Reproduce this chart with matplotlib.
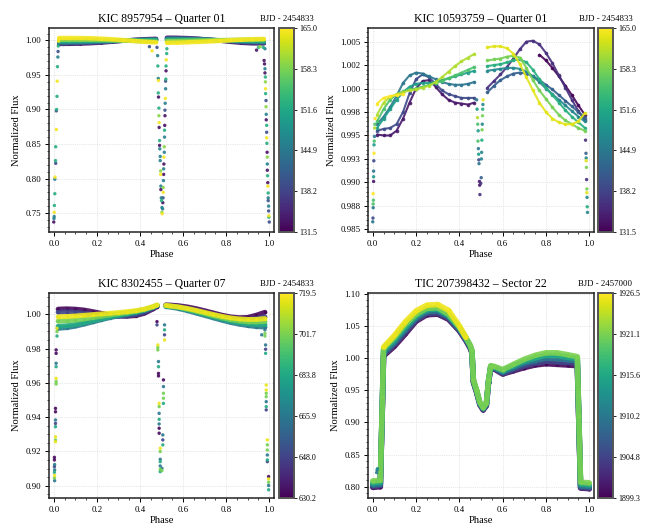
import numpy as np
import matplotlib as mpl
import matplotlib.pyplot as plt
from matplotlib.ticker import AutoMinorLocator, FormatStrFormatter, MultipleLocator

plt.rcParams['font.family'] = 'serif'
plt.rcParams['font.serif'] = ['Liberation Serif', 'DejaVu Serif']
nan = np.nan

# ---------------- KIC 8957954, Quarter 01 ----------------
tl_times = [133.0, 139.5, 146.0, 152.5, 159.0, 164.5]
tl_left_phase = [0.025, 0.07, 0.12, 0.17, 0.22, 0.27, 0.32, 0.37, 0.42, 0.475]
tl_left_flux = [
    [0.9950, 0.9951, 0.9954, 0.9960, 0.9969, 0.9981, 0.9995, 1.0008, 1.0018, 1.0024],
    [0.9960, 0.9962, 0.9965, 0.9970, 0.9977, 0.9986, 0.9997, 1.0006, 1.0013, 1.0018],
    [0.9972, 0.9974, 0.9977, 0.9981, 0.9986, 0.9992, 0.9998, 1.0004, 1.0009, 1.0012],
    [0.9988, 0.9990, 0.9992, 0.9994, 0.9996, 0.9998, 1.0000, 1.0001, 1.0002, 1.0003],
    [1.0010, 1.0011, 1.0011, 1.0010, 1.0008, 1.0004, 0.9999, 0.9993, 0.9987, 0.9982],
    [1.0035, 1.0036, 1.0035, 1.0032, 1.0026, 1.0017, 1.0006, 0.9994, 0.9981, 0.9972],
]
tl_right_phase = [0.525, 0.57, 0.62, 0.67, 0.72, 0.77, 0.82, 0.87, 0.92, 0.975]
tl_right_flux = [
    [1.0040, 1.0039, 1.0034, 1.0025, 1.0012, 0.9997, 0.9980, 0.9966, 0.9958, 0.9957],
    [1.0032, 1.0031, 1.0028, 1.0022, 1.0012, 1.0001, 0.9989, 0.9978, 0.9971, 0.9968],
    [1.0022, 1.0022, 1.0020, 1.0016, 1.0010, 1.0003, 0.9996, 0.9989, 0.9984, 0.9981],
    [1.0008, 1.0009, 1.0009, 1.0008, 1.0006, 1.0003, 1.0000, 0.9997, 0.9994, 0.9992],
    [0.9990, 0.9992, 0.9995, 0.9998, 1.0001, 1.0005, 1.0008, 1.0011, 1.0013, 1.0014],
    [0.9966, 0.9968, 0.9973, 0.9979, 0.9986, 0.9994, 1.0003, 1.0011, 1.0018, 1.0022],
]
# eclipse points (phase, flux, time)
tl_eclipse = [
    (0.000, 0.737, 133), (0.001, 0.742, 146), (0.002, 0.745, 146), (0.002, 0.751, 164.5),
    (0.003, 0.761, 152.5), (0.005, 0.778, 152.5), (0.005, 0.799, 146), (0.006, 0.802, 164.5),
    (0.009, 0.822, 139.5), (0.008, 0.826, 152.5), (0.009, 0.846, 152.5), (0.012, 0.871, 164.5),
    (0.012, 0.898, 139.5), (0.013, 0.900, 152.5), (0.015, 0.919, 152.5), (0.016, 0.941, 164.5),
    (0.017, 0.962, 152.5), (0.019, 0.976, 146), (0.020, 0.984, 139.5), (0.021, 0.992, 152.5),
    (0.022, 0.999, 164.5), (0.023, 1.003, 164.5),
    (0.444, 0.991, 139.5), (0.456, 0.985, 164.5), (0.479, 0.990, 139.5), (0.482, 0.978, 146),
    (0.483, 0.963, 152.5), (0.485, 0.945, 146), (0.486, 0.942, 164.5), (0.485, 0.924, 152.5),
    (0.486, 0.918, 133), (0.488, 0.902, 152.5), (0.488, 0.891, 159), (0.489, 0.881, 164.5),
    (0.489, 0.874, 133), (0.491, 0.855, 152.5), (0.491, 0.848, 133), (0.492, 0.843, 146),
    (0.494, 0.832, 146), (0.494, 0.826, 146), (0.496, 0.811, 159), (0.496, 0.806, 164.5),
    (0.497, 0.789, 146), (0.497, 0.784, 133), (0.499, 0.772, 146), (0.500, 0.768, 152.5),
    (0.502, 0.758, 146), (0.502, 0.751, 159), (0.503, 0.749, 164.5),
    (0.505, 0.756, 146), (0.506, 0.765, 133), (0.507, 0.772, 139.5), (0.508, 0.780, 164.5),
    (0.508, 0.787, 159), (0.509, 0.797, 146), (0.510, 0.806, 133), (0.510, 0.814, 146),
    (0.511, 0.821, 133), (0.511, 0.831, 164.5), (0.513, 0.838, 146), (0.513, 0.846, 159),
    (0.514, 0.860, 146), (0.514, 0.870, 152.5), (0.515, 0.877, 133), (0.516, 0.891, 133),
    (0.516, 0.899, 139.5), (0.517, 0.909, 146), (0.518, 0.916, 164.5), (0.519, 0.930, 146),
    (0.519, 0.941, 139.5), (0.520, 0.944, 152.5), (0.521, 0.956, 133), (0.521, 0.963, 152.5),
    (0.522, 0.972, 164.5), (0.524, 0.981, 152.5), (0.525, 0.988, 152.5),
    (0.941, 0.986, 133), (0.950, 0.990, 152.5), (0.957, 0.991, 159), (0.972, 0.990, 152.5),
    (0.976, 0.971, 133), (0.978, 0.966, 133), (0.980, 0.988, 146), (0.980, 0.959, 146),
    (0.980, 0.953, 133), (0.982, 0.947, 152.5), (0.982, 0.940, 159), (0.983, 0.930, 164.5),
    (0.983, 0.923, 152.5), (0.985, 0.913, 139.5), (0.985, 0.904, 159), (0.986, 0.893, 146),
    (0.986, 0.885, 133), (0.988, 0.877, 152.5), (0.988, 0.867, 139.5), (0.988, 0.859, 164.5),
    (0.989, 0.851, 152.5), (0.990, 0.838, 133), (0.991, 0.831, 159), (0.991, 0.821, 146),
    (0.991, 0.812, 133), (0.992, 0.804, 152.5), (0.993, 0.794, 133), (0.993, 0.789, 164.5),
    (0.995, 0.779, 152.5), (0.995, 0.772, 146), (0.995, 0.768, 139.5), (0.997, 0.760, 146),
    (0.997, 0.753, 139.5), (0.998, 0.746, 164.5), (0.998, 0.744, 152.5), (1.000, 0.737, 139.5),
]
tl_cticks = [131.5, 138.2, 144.9, 151.6, 158.3, 165.0]

# ---------------- KIC 10593759, Quarter 01 ----------------
tr_left_times = [133.5, 139.0, 144.5, 150.0, 155.5, 161.0, 165.0]
tr_left_phase = [0.02, 0.05, 0.08, 0.11, 0.14, 0.17, 0.20, 0.23, 0.26, 0.29, 0.32, 0.35, 0.38, 0.41, 0.44, 0.47]
tr_left_flux = [
    [0.9951, 0.9950, 0.9950, 0.9955, 0.9968, 0.9985, 1.0000, 1.0008, 1.0009, 1.0002, 0.9994, 0.9988, 0.9985, 0.9984, 0.9983, 0.9985],
    [0.9955, 0.9957, 0.9958, 0.9962, 0.9975, 0.9995, 1.0010, 1.0015, 1.0012, 1.0005, 0.9998, 0.9994, 0.9992, 0.9990, 0.9990, 0.9990],
    [0.9962, 0.9970, 0.9980, 0.9992, 1.0006, 1.0014, 1.0017, 1.0016, 1.0013, 1.0010, 1.0007, 1.0005, 1.0004, 1.0004, 1.0005, 1.0007],
    [0.9958, 0.9968, 0.9978, 0.9988, 0.9996, 1.0002, 1.0005, 1.0006, 1.0006, 1.0007, 1.0009, 1.0011, 1.0013, 1.0015, 1.0017, 1.0019],
    [0.9965, 0.9978, 0.9988, 0.9994, 0.9997, 0.9999, 1.0000, 1.0002, 1.0004, 1.0006, 1.0008, 1.0011, 1.0014, 1.0017, 1.0020, 1.0023],
    [0.9972, 0.9985, 0.9991, 0.9994, 0.9996, 0.9998, 0.9999, 1.0001, 1.0003, 1.0007, 1.0012, 1.0018, 1.0024, 1.0029, 1.0033, 1.0037],
    [0.9984, 0.9990, 0.9992, 0.9993, 0.9994, nan, nan, nan, nan, nan, nan, nan, nan, nan, nan, nan],
]
tr_right_times = [131.8, 136.0, 141.5, 147.0, 152.5, 158.0, 163.5]
tr_right_phase = [0.53, 0.56, 0.59, 0.62, 0.65, 0.68, 0.71, 0.74, 0.77, 0.80, 0.83, 0.86, 0.89, 0.92, 0.95, 0.98]
tr_right_flux = [
    [nan, nan, nan, nan, nan, nan, nan, nan, 1.0036, 1.0030, 1.0022, 1.0013, 1.0003, 0.9993, 0.9982, 0.9972],
    [1.0001, 1.0008, 1.0015, 1.0023, 1.0032, 1.0042, 1.0050, 1.0051, 1.0047, 1.0038, 1.0027, 1.0014, 1.0001, 0.9988, 0.9976, 0.9966],
    [0.9996, 1.0003, 1.0009, 1.0013, 1.0016, 1.0017, 1.0016, 1.0013, 1.0009, 1.0004, 0.9999, 0.9993, 0.9987, 0.9981, 0.9975, 0.9969],
    [1.0019, 1.0020, 1.0021, 1.0022, 1.0022, 1.0021, 1.0018, 1.0013, 1.0007, 1.0000, 0.9994, 0.9988, 0.9982, 0.9976, 0.9970, 0.9965],
    [1.0024, 1.0025, 1.0026, 1.0028, 1.0030, 1.0031, 1.0028, 1.0020, 1.0010, 1.0001, 0.9993, 0.9985, 0.9977, 0.9970, 0.9964, 0.9958],
    [1.0030, 1.0031, 1.0032, 1.0034, 1.0035, 1.0033, 1.0022, 1.0009, 0.9998, 0.9989, 0.9980, 0.9972, 0.9966, 0.9962, 0.9958, 0.9955],
    [1.0044, 1.0045, 1.0045, 1.0043, 1.0037, 1.0026, 1.0012, 0.9998, 0.9985, 0.9975, 0.9968, 0.9964, 0.9962, 0.9962, 0.9965, 0.9974],
]
tr_eclipse = [
    (0.000, 0.9858, 144.5), (0.001, 0.9862, 139), (0.002, 0.9873, 144.5), (0.002, 0.9877, 155.5),
    (0.003, 0.9881, 155.5), (0.002, 0.9888, 165), (0.004, 0.9901, 133.5), (0.004, 0.9906, 150),
    (0.004, 0.9912, 144.5), (0.005, 0.9923, 139), (0.006, 0.9931, 165), (0.006, 0.9940, 150),
    (0.007, 0.9944, 155.5), (0.008, 0.9949, 144.5), (0.009, 0.9958, 161), (0.010, 0.9962, 155.5),
    (0.011, 0.9968, 165),
    (0.480, 0.9988, 144.5), (0.482, 0.9978, 150), (0.484, 0.9969, 161), (0.485, 0.9962, 155.5),
    (0.487, 0.9955, 150), (0.486, 0.9944, 155.5), (0.488, 0.9936, 144.5), (0.489, 0.9930, 150),
    (0.490, 0.9924, 139), (0.491, 0.9920, 144.5), (0.493, 0.9901, 133.5), (0.494, 0.9897, 133.5),
    (0.495, 0.9887, 136), (0.499, 0.9899, 136), (0.501, 0.9905, 141.5), (0.502, 0.9925, 147),
    (0.503, 0.9932, 147), (0.504, 0.9945, 152.5), (0.505, 0.9956, 158), (0.506, 0.9962, 147),
    (0.507, 0.9971, 158), (0.508, 0.9978, 152.5), (0.509, 0.9983, 147), (0.510, 0.9988, 163.5),
    (0.983, 0.9945, 136), (0.985, 0.9931, 141.5), (0.986, 0.9926, 147), (0.986, 0.9923, 163.5),
    (0.987, 0.9916, 158), (0.988, 0.9903, 136), (0.989, 0.9893, 158), (0.989, 0.9889, 163.5),
    (0.990, 0.9884, 147), (0.991, 0.9874, 152.5), (0.992, 0.9868, 147),
]
tr_cticks = [131.5, 138.2, 144.9, 151.6, 158.3, 165.0]

# ---------------- KIC 8302455, Quarter 07 ----------------
bl_times = [632.0, 648.0, 666.0, 684.0, 701.0, 717.0]
bl_left_phase = [0.02, 0.06, 0.10, 0.14, 0.18, 0.22, 0.26, 0.30, 0.34, 0.38, 0.42, 0.46, 0.48]
bl_left_flux = [
    [1.0030, 1.0032, 1.0030, 1.0025, 1.0016, 1.0006, 0.9996, 0.9990, 0.9988, 0.9992, 1.0005, 1.0030, 1.0045],
    [1.0012, 1.0014, 1.0012, 1.0006, 0.9999, 0.9993, 0.9989, 0.9988, 0.9991, 0.9998, 1.0012, 1.0035, 1.0048],
    [0.9918, 0.9922, 0.9930, 0.9942, 0.9955, 0.9968, 0.9980, 0.9990, 0.9999, 1.0009, 1.0022, 1.0040, 1.0052],
    [0.9930, 0.9933, 0.9940, 0.9950, 0.9962, 0.9973, 0.9984, 0.9994, 1.0003, 1.0012, 1.0024, 1.0041, 1.0052],
    [0.9960, 0.9962, 0.9966, 0.9973, 0.9980, 0.9988, 0.9996, 1.0003, 1.0010, 1.0018, 1.0028, 1.0043, 1.0053],
    [0.9985, 0.9987, 0.9990, 0.9994, 0.9998, 1.0002, 1.0006, 1.0010, 1.0015, 1.0021, 1.0030, 1.0045, 1.0055],
]
bl_right_phase = [0.52, 0.54, 0.58, 0.62, 0.66, 0.70, 0.74, 0.78, 0.82, 0.86, 0.90, 0.94, 0.98]
bl_right_flux = [
    [1.0055, 1.0054, 1.0050, 1.0043, 1.0033, 1.0021, 1.0008, 0.9995, 0.9985, 0.9980, 0.9982, 0.9995, 1.0012],
    [1.0052, 1.0050, 1.0044, 1.0035, 1.0024, 1.0011, 0.9998, 0.9986, 0.9977, 0.9971, 0.9970, 0.9975, 0.9985],
    [1.0045, 1.0042, 1.0033, 1.0021, 1.0007, 0.9993, 0.9979, 0.9965, 0.9952, 0.9942, 0.9934, 0.9928, 0.9925],
    [1.0048, 1.0045, 1.0037, 1.0026, 1.0013, 0.9999, 0.9985, 0.9972, 0.9960, 0.9951, 0.9944, 0.9940, 0.9940],
    [1.0050, 1.0047, 1.0040, 1.0030, 1.0018, 1.0005, 0.9992, 0.9980, 0.9969, 0.9961, 0.9956, 0.9955, 0.9958],
    [1.0052, 1.0049, 1.0043, 1.0034, 1.0023, 1.0011, 0.9999, 0.9988, 0.9979, 0.9973, 0.9970, 0.9970, 0.9975],
]
bl_eclipse = [
    (0.003, 0.9165, 632), (0.003, 0.9150, 632), (0.004, 0.9123, 666), (0.003, 0.9111, 648),
    (0.004, 0.9092, 666), (0.003, 0.9078, 684), (0.004, 0.9059, 717), (0.003, 0.9045, 701),
    (0.004, 0.9029, 666),
    (0.008, 0.9451, 632), (0.008, 0.9431, 632), (0.008, 0.9383, 666), (0.008, 0.9363, 648),
    (0.008, 0.9344, 684), (0.008, 0.9285, 717), (0.008, 0.9266, 701), (0.008, 0.9256, 717),
    (0.011, 0.9792, 632), (0.011, 0.9772, 632), (0.011, 0.9714, 666), (0.011, 0.9694, 684),
    (0.011, 0.9626, 717), (0.011, 0.9607, 701), (0.011, 0.9593, 701),
    (0.015, 0.9918, 717), (0.015, 0.9899, 701), (0.015, 0.9873, 684),
    (0.479, 0.9957, 632), (0.479, 0.9938, 648),
    (0.483, 0.9821, 717), (0.483, 0.9807, 701), (0.483, 0.9792, 701),
    (0.486, 0.9724, 666), (0.486, 0.9694, 684), (0.486, 0.9655, 632), (0.486, 0.9640, 632),
    (0.489, 0.9480, 717), (0.489, 0.9461, 701), (0.489, 0.9422, 666), (0.489, 0.9387, 684),
    (0.489, 0.9360, 666), (0.489, 0.9335, 632), (0.489, 0.9306, 632),
    (0.494, 0.9218, 717), (0.494, 0.9199, 701), (0.494, 0.9154, 666), (0.494, 0.9140, 684),
    (0.494, 0.9115, 666), (0.494, 0.9095, 701), (0.494, 0.9082, 684),
    (0.502, 0.9101, 666), (0.502, 0.9088, 701),
    (0.506, 0.9296, 666), (0.506, 0.9267, 648), (0.506, 0.9238, 684),
    (0.509, 0.9617, 632), (0.509, 0.9578, 666), (0.509, 0.9539, 701), (0.509, 0.9510, 701),
    (0.509, 0.9480, 684),
    (0.514, 0.9938, 666), (0.514, 0.9909, 684), (0.514, 0.9880, 648), (0.514, 0.9850, 717),
    (0.965, 0.9880, 666),
    (0.980, 0.9909, 666), (0.980, 0.9889, 701), (0.980, 0.9873, 701),
    (0.983, 0.9821, 666), (0.983, 0.9796, 648), (0.983, 0.9772, 684),
    (0.986, 0.9587, 717), (0.986, 0.9558, 717), (0.986, 0.9539, 701), (0.986, 0.9519, 701),
    (0.986, 0.9490, 666), (0.986, 0.9461, 684), (0.986, 0.9442, 648),
    (0.991, 0.9267, 717), (0.991, 0.9238, 701), (0.991, 0.9208, 701), (0.991, 0.9179, 666),
    (0.991, 0.9150, 684), (0.991, 0.9140, 648),
    (0.997, 0.9053, 632), (0.997, 0.9039, 717), (0.997, 0.9020, 701), (0.997, 0.9001, 666),
    (0.997, 0.8976, 684),
]
bl_cticks = [630.2, 648.0, 665.9, 683.8, 701.7, 719.5]

# ---------------- TIC 207398432, Sector 22 ----------------
br_times = [1899.8, 1905.0, 1910.2, 1915.6, 1921.0, 1925.8]
br_phase = [0.000, 0.035, 0.045, 0.050, 0.10, 0.15, 0.20, 0.25, 0.30, 0.35, 0.40, 0.43, 0.45, 0.458, 0.465,
            0.48, 0.495, 0.51, 0.525, 0.535, 0.545, 0.56, 0.60, 0.65, 0.70, 0.75, 0.80, 0.85, 0.90, 0.945,
            0.952, 0.960, 1.000]
br_flux = [
    [0.799, 0.800, 0.930, 1.003, 1.018, 1.037, 1.057, 1.067, 1.068, 1.060, 1.042, 1.027, 1.015, 1.008, 0.962,
     0.946, 0.927, 0.919, 0.926, 0.962, 0.984, 0.983, 0.975, 0.980, 0.985, 0.989, 0.991, 0.990, 0.989, 0.988,
     0.900, 0.798, 0.797],
    [0.801, 0.802, 0.932, 1.005, 1.021, 1.040, 1.059, 1.069, 1.070, 1.062, 1.043, 1.028, 1.016, 1.009, 0.963,
     0.947, 0.928, 0.920, 0.927, 0.963, 0.985, 0.984, 0.976, 0.982, 0.988, 0.992, 0.995, 0.994, 0.993, 0.992,
     0.902, 0.799, 0.798],
    [0.803, 0.804, 0.935, 1.008, 1.024, 1.044, 1.062, 1.072, 1.073, 1.064, 1.045, 1.030, 1.018, 1.010, 0.964,
     0.948, 0.929, 0.921, 0.928, 0.964, 0.986, 0.985, 0.978, 0.985, 0.992, 0.996, 1.000, 0.999, 0.997, 0.996,
     0.905, 0.801, 0.800],
    [0.806, 0.807, 0.937, 1.012, 1.028, 1.048, 1.065, 1.075, 1.076, 1.066, 1.047, 1.031, 1.019, 1.011, 0.965,
     0.949, 0.930, 0.922, 0.929, 0.965, 0.987, 0.986, 0.980, 0.988, 0.995, 1.000, 1.004, 1.004, 1.001, 0.999,
     0.907, 0.804, 0.803],
    [0.809, 0.810, 0.940, 1.015, 1.032, 1.052, 1.068, 1.077, 1.078, 1.068, 1.048, 1.032, 1.020, 1.012, 0.966,
     0.950, 0.931, 0.923, 0.930, 0.966, 0.988, 0.987, 0.982, 0.990, 0.998, 1.004, 1.008, 1.008, 1.005, 1.002,
     0.910, 0.807, 0.806],
    [nan, nan, nan, 1.017, 1.035, 1.056, 1.073, 1.082, 1.083, 1.074, 1.050, 1.032, nan, nan, nan,
     nan, nan, nan, nan, nan, nan, nan, nan, nan, nan, nan, nan, nan, nan, nan,
     nan, nan, nan],
]
br_extra = [(0.018, 0.822, 1910.2), (0.020, 0.826, 1910.2), (0.022, 0.828, 1912.0)]
br_cticks = [1899.3, 1904.8, 1910.2, 1915.6, 1921.1, 1926.5]

cmap = plt.get_cmap('viridis')
fig = plt.figure(figsize=(6.45, 5.29), dpi=100)


def panel(rect, crect, title, bjd, cticks, lines, points, ylim, ystep, yfmt, lw, ms):
    ax = fig.add_axes(rect)
    cax = fig.add_axes(crect)
    norm = mpl.colors.Normalize(cticks[0], cticks[-1])
    for t, ph, fl in sorted(lines, key=lambda s: s[0]):
        ax.plot(ph, fl, '-o', color=cmap(norm(t)), lw=lw, ms=ms, mew=0, alpha=0.9, solid_capstyle='round')
    if points:
        pts = np.array(points)
        order = np.argsort(pts[:, 2], kind='stable')
        pts = pts[order]
        ax.scatter(pts[:, 0], pts[:, 1], c=pts[:, 2], cmap=cmap, norm=norm, s=6, linewidths=0, alpha=0.9, zorder=3)
    ax.set_xlim(-0.022, 1.022)
    ax.set_ylim(*ylim)
    ax.xaxis.set_major_locator(MultipleLocator(0.2))
    ax.xaxis.set_major_formatter(FormatStrFormatter('%.1f'))
    ax.yaxis.set_major_locator(MultipleLocator(ystep))
    ax.yaxis.set_major_formatter(FormatStrFormatter(yfmt))
    ax.xaxis.set_minor_locator(AutoMinorLocator())
    ax.yaxis.set_minor_locator(AutoMinorLocator())
    ax.tick_params(which='major', labelsize=6.3, length=3, width=0.7, direction='out', pad=2.5)
    ax.tick_params(which='minor', length=1.6, width=0.5, direction='out')
    ax.grid(True, which='major', ls=':', lw=0.5, color='#d0d0d0')
    ax.set_axisbelow(True)
    for sp in ax.spines.values():
        sp.set_linewidth(1.1)
        sp.set_color('#222222')
    ax.set_title(title, fontsize=8.5, pad=4)
    ax.set_xlabel('Phase', fontsize=7.6, labelpad=2)
    ax.set_ylabel('Normalized Flux', fontsize=7.6, labelpad=3)
    sm = mpl.cm.ScalarMappable(norm=norm, cmap=cmap)
    cb = fig.colorbar(sm, cax=cax, ticks=cticks)
    cb.ax.set_yticklabels([f'{v:.1f}' for v in cticks])
    cb.ax.tick_params(labelsize=5.8, length=2, width=0.6, pad=1.5)
    cb.outline.set_linewidth(1.4)
    cb.outline.set_edgecolor('#555555')
    cax.set_title(bjd, fontsize=6.3, pad=5)
    return ax


tl_lines = [(t, tl_left_phase, f) for t, f in zip(tl_times, tl_left_flux)] + \
           [(t, tl_right_phase, f) for t, f in zip(tl_times, tl_right_flux)]
panel([0.076, 0.5614, 0.3488, 0.3856], [0.4326, 0.5614, 0.0233, 0.3856],
      'KIC 8957954 – Quarter 01', 'BJD - 2454833', tl_cticks, tl_lines, tl_eclipse,
      (0.7225, 1.018), 0.05, '%.2f', 3.2, 2.2)

tr_lines = [(t, tr_left_phase, f) for t, f in zip(tr_left_times, tr_left_flux)] + \
           [(t, tr_right_phase, f) for t, f in zip(tr_right_times, tr_right_flux)]
panel([0.5705, 0.5614, 0.3504, 0.3856], [0.9271, 0.5614, 0.0233, 0.3856],
      'KIC 10593759 – Quarter 01', 'BJD - 2454833', tr_cticks, tr_lines, tr_eclipse,
      (0.98471, 1.00645), 0.0025, '%.3f', 1.5, 2.6)

bl_lines = [(t, bl_left_phase, f) for t, f in zip(bl_times, bl_left_flux)] + \
           [(t, bl_right_phase, f) for t, f in zip(bl_times, bl_right_flux)]
panel([0.076, 0.0586, 0.3488, 0.3875], [0.4326, 0.0586, 0.0233, 0.3875],
      'KIC 8302455 – Quarter 07', 'BJD - 2454833', bl_cticks, bl_lines, bl_eclipse,
      (0.8928, 1.0124), 0.02, '%.2f', 3.5, 2.5)

br_lines = [(t, br_phase, f) for t, f in zip(br_times, br_flux)]
panel([0.5705, 0.0586, 0.3504, 0.3875], [0.9271, 0.0586, 0.0233, 0.3875],
      'TIC 207398432 – Sector 22', 'BJD - 2457000', br_cticks, br_lines, br_extra,
      (0.7825, 1.1008), 0.05, '%.2f', 4.0, 3.0)

fig.savefig('out.png', dpi=100)
